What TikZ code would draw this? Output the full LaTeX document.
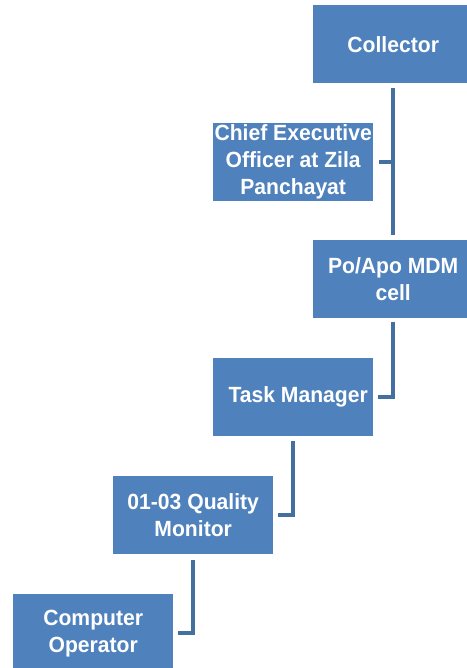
\documentclass[tikz,border=0pt]{standalone}
\usepackage{fontspec}
\setmainfont{Liberation Sans}
\newfontfamily\orgfont[FakeStretch=0.96]{Liberation Sans}
\usetikzlibrary{calc}
\definecolor{boxblue}{HTML}{4F81BD}
\definecolor{linkblue}{HTML}{43709F}
\begin{document}
\begin{tikzpicture}[x=1pt,y=-1pt,
  orgbox/.style={fill=boxblue, draw=none, anchor=north west, minimum width=160pt, minimum height=78pt,
    inner sep=0pt, text=white, align=center,
    font=\orgfont\fontsize{22}{27}\selectfont\bfseries},
  link/.style={draw=linkblue, line width=4.5pt}]
\useasboundingbox (0,0) rectangle (466,668);
\node[orgbox] (coll) at (313,5) {Collector};
\node[orgbox] (ceo) at (213,123) {Chief Executive\\Officer at Zila\\Panchayat};
\node[orgbox] (po) at (313,240) {Po/Apo MDM\\cell};
\node[orgbox] (task) at (213,358) {\hspace*{10pt}Task Manager};
\node[orgbox] (qm) at (113,476) {01-03 Quality\\Monitor};
\node[orgbox] (co) at (13,594) {Computer\\Operator};
% connectors
\coordinate (c1) at ($(coll.south west)+(80,5)$);
\coordinate (c2) at ($(po.north west)+(80,-5)$);
\draw[link] (c1) -- (c2);
\draw[link] ($(ceo.east)+(6,0)$) -- (c1 |- ceo.east);
\draw[link] ($(po.south west)+(80,4)$) |- ($(task.east)+(5,0)$);
\draw[link] ($(task.south west)+(80,5)$) |- ($(qm.east)+(5,0)$);
\draw[link] ($(qm.south west)+(80,6)$) |- ($(co.east)+(5,0)$);
\end{tikzpicture}
\end{document}
